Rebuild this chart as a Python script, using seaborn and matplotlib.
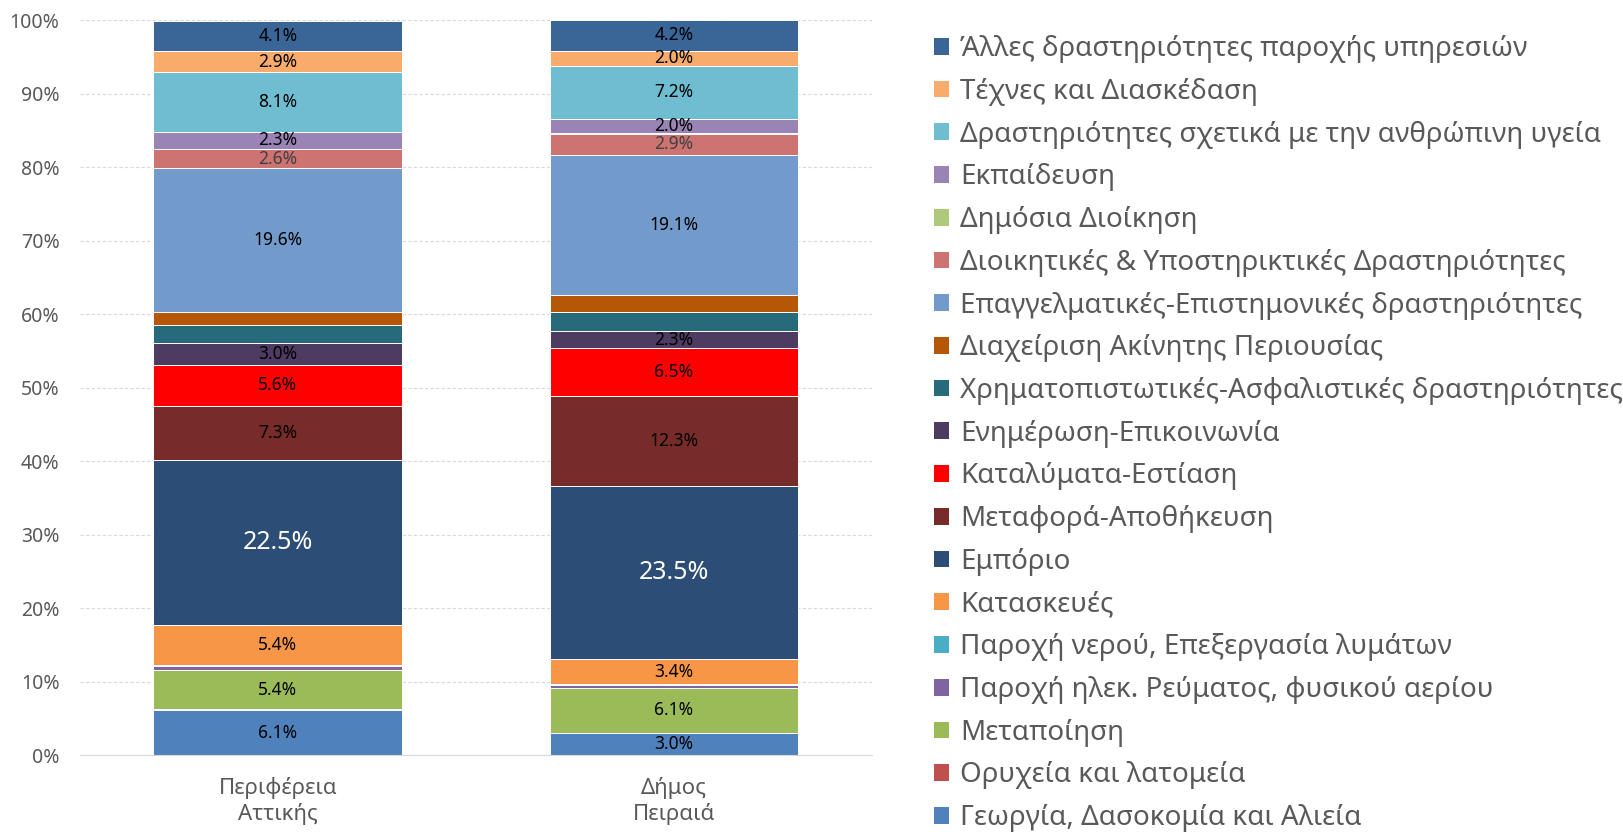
import numpy as np
import pandas as pd
import matplotlib
matplotlib.use('Agg')
import matplotlib.pyplot as plt
import seaborn as sns
from matplotlib.patches import Patch

# Δεδομένα (σειρά υπομνήματος: από την κορυφή της στοίβας προς τη βάση)
areas = ['Περιφέρεια\nΑττικής', 'Δήμος\nΠειραιά']

sectors = [
    'Άλλες δραστηριότητες παροχής υπηρεσιών',
    'Τέχνες και Διασκέδαση',
    'Δραστηριότητες σχετικά με την ανθρώπινη υγεία',
    'Εκπαίδευση',
    'Δημόσια Διοίκηση',
    'Διοικητικές & Υποστηρικτικές Δραστηριότητες',
    'Επαγγελματικές-Επιστημονικές δραστηριότητες',
    'Διαχείριση Ακίνητης Περιουσίας',
    'Χρηματοπιστωτικές-Ασφαλιστικές δραστηριότητες',
    'Ενημέρωση-Επικοινωνία',
    'Καταλύματα-Εστίαση',
    'Μεταφορά-Αποθήκευση',
    'Εμπόριο',
    'Κατασκευές',
    'Παροχή νερού, Επεξεργασία λυμάτων',
    'Παροχή ηλεκ. Ρεύματος, φυσικού αερίου',
    'Μεταποίηση',
    'Ορυχεία και λατομεία',
    'Γεωργία, Δασοκομία και Αλιεία',
]

colors = [
    '#3A6597', '#F9AB6B', '#6FBDD1', '#9A84B6', '#AFC97A',
    '#CD7371', '#729ACA', '#B65708', '#276A7C', '#4D3B62',
    '#FF0000', '#772C2A', '#2C4D75', '#F79646', '#4BACC6',
    '#8064A2', '#9BBB59', '#C0504D', '#4F81BD',
]

attiki = [4.1, 2.9, 8.1, 2.3, 0.05, 2.6, 19.6, 1.7, 2.45, 3.0,
          5.6, 7.3, 22.5, 5.4, 0.15, 0.55, 5.4, 0.1, 6.1]
peiraias = [4.2, 2.0, 7.2, 2.0, 0.05, 2.9, 19.1, 2.3, 2.6, 2.3,
            6.5, 12.3, 23.5, 3.4, 0.1, 0.4, 6.1, 0.05, 3.0]

# ποια τμήματα έχουν ετικέτα
labelled = [True, True, True, True, False, True, True, False, False, True,
            True, True, True, True, False, False, True, False, True]

df = pd.DataFrame({'sector': sectors, areas[0]: attiki, areas[1]: peiraias})

plt.rcParams['font.family'] = ['Noto Sans', 'DejaVu Sans']

fig = plt.figure(figsize=(16.24, 8.34), dpi=100)
ax = fig.add_axes([0.049, 0.0947, 0.488, 0.8813])

# σωρευτικά ύψη (από τη βάση)
vals = df[areas].to_numpy()
tops = vals[::-1].cumsum(axis=0)[::-1]

# ζωγραφίζουμε από το ψηλότερο σωρευτικό προς το χαμηλότερο
for i in range(len(sectors)):
    sns.barplot(x=areas, y=list(tops[i]), color=colors[i], saturation=1,
                width=0.627, edgecolor='white', linewidth=0.7, ax=ax)

# ετικέτες τιμών
for i in range(len(sectors)):
    if not labelled[i]:
        continue
    for j in range(len(areas)):
        v = vals[i, j]
        y = tops[i, j] - v / 2
        if sectors[i] == 'Εμπόριο':
            ax.text(j, y, f'{v:.1f}%', ha='center', va='center', fontsize=18, color='white')
        elif sectors[i].startswith('Διοικητικές'):
            ax.text(j, y, f'{v:.1f}%', ha='center', va='center', fontsize=12.5, color='#404040')
        else:
            ax.text(j, y, f'{v:.1f}%', ha='center', va='center', fontsize=12.5, color='black')

ax.set_xlim(-0.5, 1.5)
ax.set_ylim(0, 100)
ax.set_yticks(np.arange(0, 101, 10))
ax.set_yticklabels([f'{t}%' for t in range(0, 101, 10)])
ax.set_xlabel('')
ax.set_ylabel('')
ax.yaxis.grid(True, color='#D9D9D9', linestyle=(0, (3, 2)), linewidth=0.8)
ax.set_axisbelow(True)
for s in ['top', 'right', 'left']:
    ax.spines[s].set_visible(False)
ax.spines['bottom'].set_color('#D9D9D9')
ax.tick_params(axis='both', length=0, colors='#595959')
ax.tick_params(axis='y', labelsize=14, pad=14.5)
ax.tick_params(axis='x', labelsize=16, pad=16)

handles = [Patch(facecolor=c, edgecolor='none', label=s) for s, c in zip(sectors, colors)]
fig.legend(handles=handles, loc='center left', bbox_to_anchor=(0.575, 0.48),
           frameon=False, fontsize=20, labelcolor='#595959',
           handlelength=0.55, handleheight=0.55, handletextpad=0.4,
           labelspacing=0.53, borderpad=0, borderaxespad=0)

fig.savefig('out.png', dpi=100)
